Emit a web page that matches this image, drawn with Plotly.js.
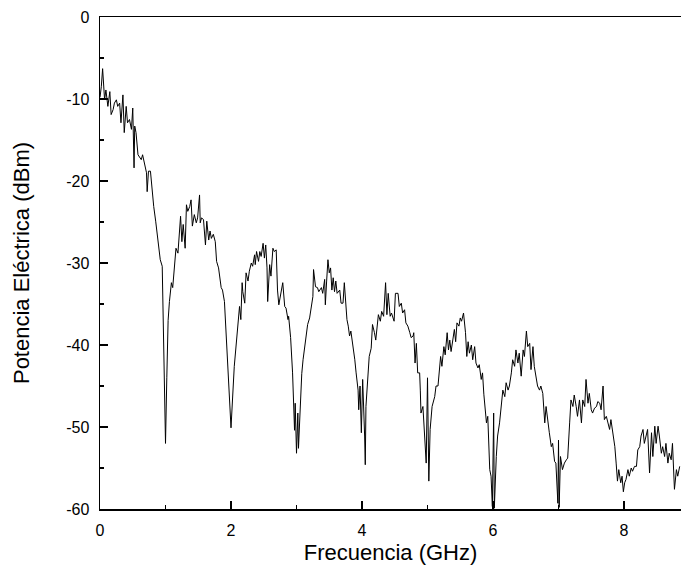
<!DOCTYPE html>
<html>
<head>
<meta charset="utf-8">
<script src="https://cdn.plot.ly/plotly-3.0.1.min.js"></script>
<style>
  html, body { margin: 0; padding: 0; background: #ffffff; }
  #chart { width: 681px; height: 575px; }
</style>
</head>
<body>
<div id="chart"></div>
<script>
// Frequency (GHz) and electrical power (dBm)
const freqGHz = [
  0.00, 0.02, 0.04, 0.055, 0.07, 0.09, 0.12, 0.15, 0.17, 0.20,
  0.22, 0.25, 0.27, 0.30, 0.32, 0.35, 0.37, 0.40, 0.42, 0.45,
  0.48, 0.50, 0.52, 0.53, 0.55, 0.58, 0.60, 0.63, 0.65, 0.68,
  0.71, 0.72, 0.74, 0.77, 0.80, 0.82, 0.85, 0.88, 0.92, 0.95,
  0.97, 1.00, 1.02, 1.04, 1.06, 1.09, 1.11, 1.14, 1.16, 1.19,
  1.21, 1.23, 1.25, 1.27, 1.30, 1.32, 1.34, 1.37, 1.39, 1.41,
  1.44, 1.47, 1.49, 1.52, 1.53, 1.55, 1.58, 1.61, 1.63, 1.66,
  1.68, 1.70, 1.73, 1.76, 1.78, 1.81, 1.85, 1.87, 1.90, 1.95,
  2.00, 2.05, 2.10, 2.13, 2.15, 2.17, 2.18, 2.21, 2.23, 2.26,
  2.28, 2.31, 2.33, 2.36, 2.37, 2.39, 2.42, 2.44, 2.46, 2.49,
  2.51, 2.53, 2.55, 2.56, 2.59, 2.61, 2.64, 2.66, 2.69, 2.71,
  2.73, 2.76, 2.79, 2.82, 2.84, 2.87, 2.88, 2.91, 2.92, 2.94,
  2.97, 2.98, 3.00, 3.02, 3.03, 3.06, 3.08, 3.10, 3.13, 3.15,
  3.17, 3.20, 3.22, 3.25, 3.26, 3.29, 3.32, 3.34, 3.38, 3.40,
  3.43, 3.44, 3.46, 3.48, 3.50, 3.52, 3.54, 3.56, 3.58, 3.60,
  3.62, 3.66, 3.68, 3.71, 3.73, 3.75, 3.77, 3.79, 3.81, 3.83,
  3.85, 3.87, 3.89, 3.91, 3.94, 3.95, 3.97, 3.99, 4.01, 4.04,
  4.05, 4.06, 4.09, 4.11, 4.14, 4.16, 4.19, 4.21, 4.25, 4.28,
  4.30, 4.33, 4.36, 4.38, 4.40, 4.43, 4.45, 4.49, 4.51, 4.55,
  4.57, 4.60, 4.62, 4.65, 4.67, 4.70, 4.73, 4.75, 4.78, 4.79,
  4.81, 4.83, 4.85, 4.88, 4.89, 4.90, 4.93, 4.95, 4.98, 5.00,
  5.02, 5.04, 5.07, 5.11, 5.13, 5.16, 5.18, 5.20, 5.22, 5.25,
  5.27, 5.30, 5.32, 5.34, 5.36, 5.39, 5.41, 5.43, 5.45, 5.48,
  5.50, 5.52, 5.55, 5.58, 5.60, 5.62, 5.64, 5.67, 5.69, 5.72,
  5.74, 5.77, 5.79, 5.82, 5.84, 5.86, 5.90, 5.92, 5.95, 5.97,
  5.99, 6.01, 6.02, 6.05, 6.07, 6.10, 6.13, 6.15, 6.18, 6.20,
  6.23, 6.25, 6.28, 6.30, 6.33, 6.35, 6.38, 6.40, 6.43, 6.46,
  6.48, 6.51, 6.53, 6.56, 6.58, 6.61, 6.63, 6.66, 6.68, 6.71,
  6.73, 6.76, 6.79, 6.81, 6.84, 6.86, 6.89, 6.91, 6.94, 6.96,
  6.99, 7.00, 7.01, 7.03, 7.06, 7.09, 7.12, 7.14, 7.17, 7.19,
  7.22, 7.24, 7.27, 7.29, 7.32, 7.35, 7.37, 7.40, 7.42, 7.45,
  7.47, 7.50, 7.52, 7.55, 7.58, 7.60, 7.63, 7.65, 7.68, 7.70,
  7.73, 7.75, 7.78, 7.80, 7.83, 7.86, 7.88, 7.90, 7.92, 7.95,
  7.97, 7.99, 8.01, 8.03, 8.06, 8.08, 8.11, 8.13, 8.16, 8.19,
  8.21, 8.24, 8.26, 8.29, 8.31, 8.34, 8.36, 8.39, 8.42, 8.44,
  8.47, 8.49, 8.52, 8.54, 8.57, 8.59, 8.62, 8.64, 8.67, 8.69,
  8.72, 8.74, 8.77, 8.80, 8.82, 8.85
];
const powerDBm = [
  -9.8, -8.5, -6.3, -9.2, -10.1, -8.9, -10.9, -9.1, -11.9, -11.3,
  -10.5, -10.1, -10.9, -10.5, -12.9, -9.5, -14.1, -10.9, -12.9, -12.5,
  -13.7, -11.1, -18.4, -13.3, -14.1, -16.8, -17.0, -17.4, -16.8, -17.8,
  -19.0, -21.3, -18.8, -18.8, -21.5, -23.1, -24.9, -27.2, -29.6, -30.4,
  -38.0, -52.0, -44.0, -37.0, -34.7, -32.4, -33.0, -30.2, -28.2, -28.8,
  -27.0, -24.3, -27.4, -25.3, -28.2, -22.9, -23.7, -23.1, -22.3, -25.5,
  -24.1, -25.1, -24.5, -21.7, -25.1, -24.5, -24.7, -27.8, -24.9, -27.2,
  -26.1, -27.0, -26.5, -27.4, -29.8, -30.6, -33.0, -33.3, -34.7, -43.0,
  -50.1, -42.6, -37.3, -35.3, -36.9, -32.4, -33.5, -34.9, -31.2, -32.2,
  -31.0, -30.0, -30.4, -29.0, -30.2, -28.6, -29.8, -28.6, -29.2, -27.6,
  -29.4, -27.8, -30.6, -34.7, -30.2, -31.6, -28.2, -28.6, -28.4, -33.3,
  -35.1, -33.5, -32.4, -35.3, -35.5, -36.9, -36.5, -39.1, -40.2, -43.4,
  -50.4, -47.1, -53.2, -48.3, -52.6, -46.3, -43.5, -41.8, -40.0, -38.5,
  -37.5, -36.7, -35.7, -34.1, -30.8, -32.9, -33.0, -33.5, -33.0, -33.7,
  -32.0, -35.1, -32.2, -29.6, -31.2, -30.6, -33.3, -31.8, -33.5, -32.2,
  -33.7, -33.3, -34.9, -34.9, -32.4, -35.3, -36.9, -37.7, -38.9, -38.3,
  -39.4, -40.5, -41.8, -43.4, -45.5, -47.9, -45.0, -50.7, -44.2, -51.1,
  -54.6, -47.5, -43.4, -41.4, -40.4, -37.5, -38.5, -39.4, -36.3, -37.1,
  -35.9, -36.5, -32.4, -36.3, -33.7, -36.5, -36.1, -37.1, -33.7, -33.7,
  -35.3, -34.9, -36.1, -35.7, -37.3, -37.7, -38.5, -39.1, -38.9, -38.5,
  -42.2, -39.8, -43.4, -43.4, -45.5, -48.3, -47.5, -50.3, -54.4, -44.0,
  -56.6, -50.3, -47.5, -46.3, -45.0, -45.0, -43.4, -41.4, -42.6, -40.2,
  -41.2, -38.5, -40.6, -39.4, -40.8, -39.1, -38.1, -39.6, -37.3, -37.7,
  -36.7, -37.1, -36.1, -38.5, -41.4, -39.6, -41.0, -40.0, -41.8, -40.2,
  -42.2, -42.8, -42.4, -44.2, -43.4, -46.0, -49.5, -48.7, -55.2, -56.0,
  -59.7, -48.3, -59.9, -53.6, -51.1, -49.5, -47.1, -45.5, -46.3, -44.6,
  -45.5, -45.0, -43.4, -41.8, -42.6, -40.6, -42.2, -41.0, -43.8, -40.6,
  -41.4, -38.3, -40.2, -39.8, -43.0, -40.2, -42.6, -43.8, -45.0, -45.5,
  -45.0, -45.9, -49.5, -47.5, -49.1, -50.7, -52.4, -52.0, -54.2, -54.4,
  -59.3, -51.6, -59.8, -53.6, -55.2, -54.4, -54.0, -53.8, -49.5, -46.7,
  -47.5, -46.1, -47.5, -48.7, -46.7, -49.5, -46.7, -47.5, -44.2, -47.1,
  -45.9, -47.9, -48.3, -47.7, -47.5, -46.9, -47.1, -47.9, -45.0, -49.1,
  -48.7, -49.5, -50.3, -49.1, -50.7, -52.4, -54.4, -56.6, -55.2, -56.8,
  -56.0, -57.9, -56.8, -56.4, -55.2, -56.0, -55.0, -55.4, -54.8, -54.8,
  -52.8, -52.4, -51.1, -50.3, -52.0, -51.1, -50.3, -55.6, -50.7, -53.6,
  -49.9, -52.0, -49.9, -51.1, -53.2, -52.4, -53.6, -52.0, -54.4, -53.2,
  -54.0, -52.0, -57.6, -55.2, -56.0, -54.8
];
const xTickVals = [0, 2, 4, 6, 8];
const xTickText = ["0", "2", "4", "6", "8"];
const yTickVals = [0, -10, -20, -30, -40, -50, -60];
const yTickText = ["0", "-10", "-20", "-30", "-40", "-50", "-60"];
const xTitle = "Frecuencia (GHz)";
const yTitle = "Potencia Eléctrica (dBm)";

const trace = {
  x: freqGHz,
  y: powerDBm,
  type: "scatter",
  mode: "lines",
  line: { color: "#000000", width: 1 },
  hoverinfo: "skip"
};

const fontFam = "Liberation Sans, Arial, sans-serif";
const layout = {
  width: 681,
  height: 575,
  margin: { l: 100, r: 0, t: 17, b: 66, pad: 0 },
  paper_bgcolor: "#ffffff",
  plot_bgcolor: "#ffffff",
  showlegend: false,
  font: { family: fontFam, color: "#000000", size: 16 },
  xaxis: {
    range: [0, 8.87],
    tickmode: "array",
    tickvals: xTickVals,
    ticktext: xTickText,
    ticks: "inside",
    ticklen: 8,
    tickwidth: 1.5,
    tickcolor: "#000000",
    minor: { ticks: "inside", dtick: 1, tick0: 0, ticklen: 4, tickwidth: 1.5, tickcolor: "#000000" },
    showline: true,
    linecolor: "#000000",
    linewidth: 1.5,
    mirror: true,
    showgrid: false,
    zeroline: false,
    tickfont: { family: fontFam, size: 16, color: "#000000" },
    ticklabelstandoff: 6,
    automargin: false,
    title: { text: xTitle, font: { family: fontFam, size: 22, color: "#000000" }, standoff: 7 }
  },
  yaxis: {
    range: [-60, 0],
    tickmode: "array",
    tickvals: yTickVals,
    ticktext: yTickText,
    ticks: "inside",
    ticklen: 8,
    tickwidth: 1.5,
    tickcolor: "#000000",
    minor: { ticks: "inside", dtick: 5, tick0: 0, ticklen: 4, tickwidth: 1.5, tickcolor: "#000000" },
    showline: true,
    linecolor: "#000000",
    linewidth: 1.5,
    mirror: false,
    showgrid: false,
    zeroline: false,
    tickfont: { family: fontFam, size: 16, color: "#000000" },
    ticklabelstandoff: 6,
    automargin: false,
    title: { text: yTitle, font: { family: fontFam, size: 22, color: "#000000" }, standoff: 30 }
  }
};

Plotly.newPlot("chart", [trace], layout, { displayModeBar: false, staticPlot: true });
</script>
</body>
</html>
